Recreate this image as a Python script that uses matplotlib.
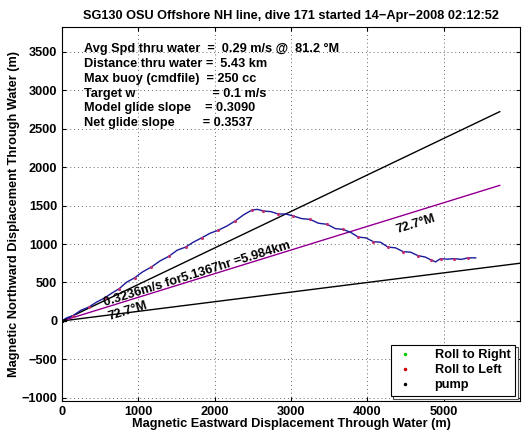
import matplotlib
matplotlib.use("Agg")
import matplotlib.pyplot as plt
import numpy as np

plt.rcParams['font.family'] = ['Liberation Sans', 'DejaVu Sans']
plt.rcParams['font.weight'] = 'bold'
plt.rcParams['axes.titleweight'] = 'bold'
plt.rcParams['axes.labelweight'] = 'bold'

# glider track through water (m)
track_x = [0, 60, 144, 250, 350, 455, 560, 650, 750, 849, 950, 1060, 1170, 1286,
           1400, 1510, 1620, 1719, 1830, 1940, 2050, 2161, 2270, 2380, 2490, 2560,
           2638, 2740, 2830, 2930, 3031, 3140, 3250, 3360, 3474, 3580, 3680, 3780,
           3880, 3980, 4080, 4173, 4270, 4370, 4470, 4567, 4660, 4760, 4840, 4895,
           4960, 5048, 5140, 5230, 5320, 5420]
track_y = [0, 40, 69, 140, 180, 246, 300, 360, 420, 505, 560, 640, 700, 781,
           840, 920, 960, 1023, 1080, 1140, 1180, 1234, 1300, 1380, 1442, 1450,
           1429, 1420, 1390, 1390, 1364, 1330, 1320, 1270, 1256, 1200, 1190, 1153,
           1090, 1080, 1030, 1023, 960, 950, 900, 894, 850, 830, 790, 768,
           810, 803, 810, 800, 820, 820]

# reference lines from origin (end points, m)
upper_end = (5735, 2720)
glide_end = (5735, 1762)
lower_end = (6400, 800)

info = ["Avg Spd thru water  =  0.29 m/s @  81.2 \u00b0M",
        "Distance thru water =  5.43 km",
        "Max buoy (cmdfile)  = 250 cc",
        "Target w                      = 0.1 m/s",
        "Model glide slope    = 0.3090",
        "Net glide slope        = 0.3537"]

fs = 9.2
fig = plt.figure(figsize=(5.28, 4.42), dpi=100)
ax = fig.add_axes([0.1174, 0.0928, 0.8674, 0.8461])

ax.plot([0, upper_end[0]], [0, upper_end[1]], color='k', lw=1)
ax.plot([0, lower_end[0]], [0, lower_end[1]], color='k', lw=1)
ax.plot([0, glide_end[0]], [0, glide_end[1]], color='m', lw=1)
ax.plot([0, glide_end[0]], [0, glide_end[1]], color='k', lw=0.4, alpha=0.5)
ax.plot(track_x, track_y, color='#1a1a9a', lw=1.0)
ax.plot(track_x[::2], track_y[::2], '.', color='#c03070', ms=2.5)

# legend handles
ax.plot([], [], '.', color='#00cc00', ms=3, label='Roll to Right')
ax.plot([], [], '.', color='#cc0000', ms=3, label='Roll to Left')
ax.plot([0, 40], [0, 10], '.', color='k', ms=3, label='pump')

ax.text(564, 200, "0.3236m/s for5.1367hr =5.984km", rotation=17.3,
        rotation_mode='anchor', fontsize=fs)
ax.text(4400, 1140, "72.7\u00b0M", rotation=17.3, rotation_mode='anchor', fontsize=fs)
ax.text(620, 15, "72.7\u00b0M", rotation=17.3, rotation_mode='anchor', fontsize=fs)

for i, s in enumerate(info):
    ax.text(290, 3530 - i * 192, s, fontsize=fs, va='center')

ax.set_xlim(0, 6000)
ax.set_ylim(-1040, 3820)
ax.set_xticks(np.arange(0, 5001, 1000))
ax.set_yticks(np.arange(-1000, 3501, 500))
ax.tick_params(direction='in', top=True, right=True, labelsize=fs, length=3)
ax.grid(True, linestyle=(0, (1, 3)), color='#666666', lw=0.7)
ax.set_xlabel("Magnetic Eastward Displacement Through Water (m)", fontsize=fs,
              fontweight='bold', labelpad=0)
ax.set_ylabel("Magnetic Northward Displacement Through Water (m)", fontsize=fs,
              fontweight='bold', labelpad=1)
ax.set_title("SG130 OSU Offshore NH line, dive 171 started 14\u2212Apr\u22122008 02:12:52",
             fontsize=fs, fontweight='bold', pad=6)

leg = ax.legend(loc='lower right', fontsize=fs, frameon=True, fancybox=False,
                shadow={'facecolor': 'white', 'edgecolor': '0.3', 'lw': 0.8, 'alpha': 1},
                edgecolor='k', framealpha=1, borderaxespad=0.4, handlelength=1.5,
                handletextpad=1.6, labelspacing=0.25, borderpad=0.35)
leg.get_frame().set_linewidth(0.8)

fig.savefig("out.png", dpi=100)
